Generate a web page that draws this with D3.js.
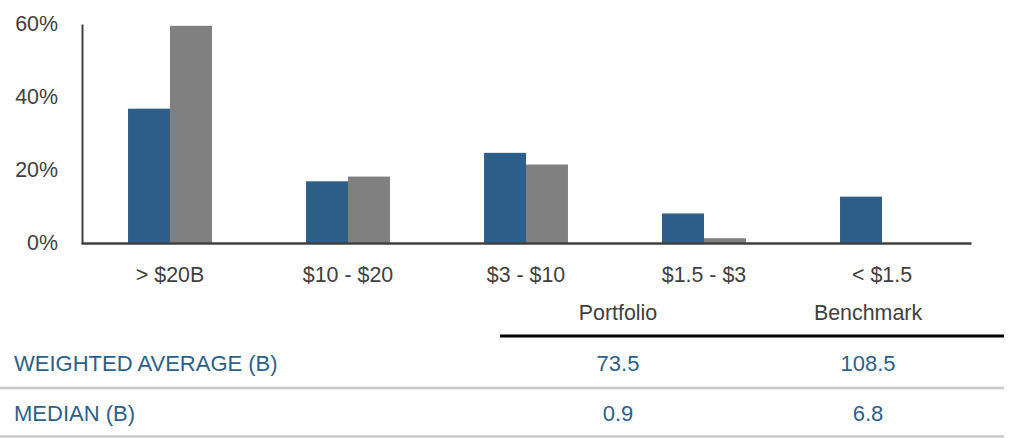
<!DOCTYPE html>
<html>
<head>
<meta charset="utf-8">
<script src="https://cdn.jsdelivr.net/npm/d3@7"></script>
<style>
  body { margin: 0; background: #fff; }
  svg text { font-family: "Liberation Sans", Arial, sans-serif; }
</style>
</head>
<body>
<svg id="chart"></svg>
<script>
// data
const categories = ["> $20B", "$10 - $20", "$3 - $10", "$1.5 - $3", "< $1.5"];
const seriesNames = ["Portfolio", "Benchmark"];
const portfolio = [0.368, 0.169, 0.247, 0.081, 0.127];
const benchmark = [0.595, 0.182, 0.215, 0.013, 0.0];
const yTicks = [0, 0.2, 0.4, 0.6];

const rowLabels = ["WEIGHTED AVERAGE (B)", "MEDIAN (B)"];
const portfolioStats = ["73.5", "0.9"];
const benchmarkStats = ["108.5", "6.8"];

// constants
const width = 1010;
const height = 438;
const blue = "#2e5f8a";
const grey = "#808080";
const axisColor = "#404040";
const fontSize = 21.4;
const tableFont = 22;

const svg = d3.select("#chart").attr("width", width).attr("height", height);

const x0 = d3.scaleBand().domain(categories).range([81, 971]);
const x1 = d3.scaleBand().domain(seriesNames).range([0, x0.bandwidth()])
  .paddingInner(0).paddingOuter(1.12);
const y = d3.scaleLinear().domain([0, 0.6]).range([243, 24]);
const color = d3.scaleOrdinal().domain(seriesNames).range([blue, grey]);

const rows = categories.map((c, i) => ({ cat: c, vals: [
  { key: "Portfolio", value: portfolio[i] },
  { key: "Benchmark", value: benchmark[i] }
]}));

// bars
svg.append("g").selectAll("g")
  .data(rows).enter().append("g")
  .attr("transform", d => "translate(" + x0(d.cat) + ",0)")
  .selectAll("rect")
  .data(d => d.vals.filter(v => v.value > 0)).enter().append("rect")
  .attr("x", d => x1(d.key))
  .attr("y", d => y(d.value))
  .attr("width", x1.bandwidth())
  .attr("height", d => y(0) - y(d.value))
  .attr("fill", d => color(d.key));

// y axis
const yAxis = svg.append("g").attr("transform", "translate(82,0)")
  .call(d3.axisLeft(y).tickValues(yTicks).tickFormat(d3.format(".0%"))
    .tickSizeInner(0).tickSizeOuter(0).tickPadding(24));
yAxis.select(".domain").attr("stroke", axisColor).attr("stroke-width", 2);
yAxis.selectAll("text").attr("font-size", fontSize).attr("fill", axisColor)
  .attr("font-family", "Liberation Sans, Arial, sans-serif");

// x axis
const xAxis = svg.append("g").attr("transform", "translate(0,243)")
  .call(d3.axisBottom(x0).tickSizeInner(0).tickSizeOuter(0).tickPadding(24));
xAxis.select(".domain").attr("stroke", axisColor).attr("stroke-width", 2.5);
xAxis.selectAll("text").attr("font-size", fontSize).attr("fill", axisColor)
  .attr("font-family", "Liberation Sans, Arial, sans-serif");

// stats table
const colX = d3.scaleOrdinal().domain(seriesNames).range([618, 868]);
const table = svg.append("g");

table.selectAll(".hdr").data(seriesNames).enter().append("text")
  .attr("class", "hdr")
  .attr("x", d => colX(d)).attr("y", 319.5)
  .attr("text-anchor", "middle")
  .attr("font-size", fontSize).attr("fill", axisColor)
  .text(d => d);

table.append("line")
  .attr("x1", 500).attr("x2", 1004).attr("y1", 336).attr("y2", 336)
  .attr("stroke", "#000").attr("stroke-width", 3);

const rowY = d3.scaleOrdinal().domain(rowLabels).range([370.5, 421]);
const lineY = d3.scaleOrdinal().domain(rowLabels).range([388, 436.5]);

rowLabels.forEach((lab, i) => {
  table.append("text")
    .attr("x", 14).attr("y", rowY(lab))
    .attr("font-size", tableFont).attr("fill", blue)
    .text(lab);
  table.append("text")
    .attr("x", colX("Portfolio")).attr("y", rowY(lab))
    .attr("text-anchor", "middle")
    .attr("font-size", tableFont).attr("fill", blue)
    .text(portfolioStats[i]);
  table.append("text")
    .attr("x", colX("Benchmark")).attr("y", rowY(lab))
    .attr("text-anchor", "middle")
    .attr("font-size", tableFont).attr("fill", blue)
    .text(benchmarkStats[i]);
  table.append("line")
    .attr("x1", 0).attr("x2", 1004).attr("y1", lineY(lab)).attr("y2", lineY(lab))
    .attr("stroke", "#c8c8c8").attr("stroke-width", 2.5);
});
</script>
</body>
</html>
